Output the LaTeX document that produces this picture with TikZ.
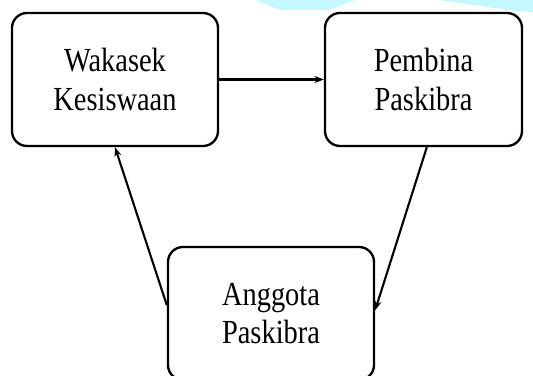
\documentclass[tikz,border=0pt]{standalone}
\usepackage{fontspec}
\setmainfont{Liberation Serif}
\usetikzlibrary{arrows.meta}
\definecolor{langit}{RGB}{196,247,254}
\tikzstyle{kotak}=[draw,line width=2pt,rounded corners=0.45cm,minimum width=6.18cm,minimum height=3.99cm,align=center,font=\fontsize{25}{33}\selectfont]
\tikzstyle{panah}=[-{Stealth[length=8pt,width=6pt]},line width=1.8pt]
\newcommand{\tinggi}[1]{\scalebox{0.97}[1.15]{#1}}

\begin{document}
\begin{tikzpicture}[x=0.03cm,y=-0.03cm]
\useasboundingbox (0,0) rectangle (533,376);
% latar biru di atas
\fill [langit] (255,0) -- (280,10) -- (328,10) -- (355,0) -- cycle;
\fill [langit] (440,0) -- (515,11) -- (533,12) -- (533,0) -- cycle;
\node [kotak] (wakasek) at (115,79.5) {\tinggi{Wakasek}\\\tinggi{Kesiswaan}};
\node [kotak,minimum width=5.91cm] (pembina) at (423.5,79.5) {\tinggi{Pembina}\\\tinggi{Paskibra}};
\node [kotak] (anggota) at (271,313.5) {\tinggi{Anggota}\\\tinggi{Paskibra}};
\draw [panah] (wakasek.east) -- (pembina.west);
\draw [panah] ([xshift=0.1cm]pembina.south) -- ([yshift=0.1cm]anggota.east);
\draw [panah] ([yshift=0.25cm]anggota.west) -- (wakasek.south);
\end{tikzpicture}
\end{document}
